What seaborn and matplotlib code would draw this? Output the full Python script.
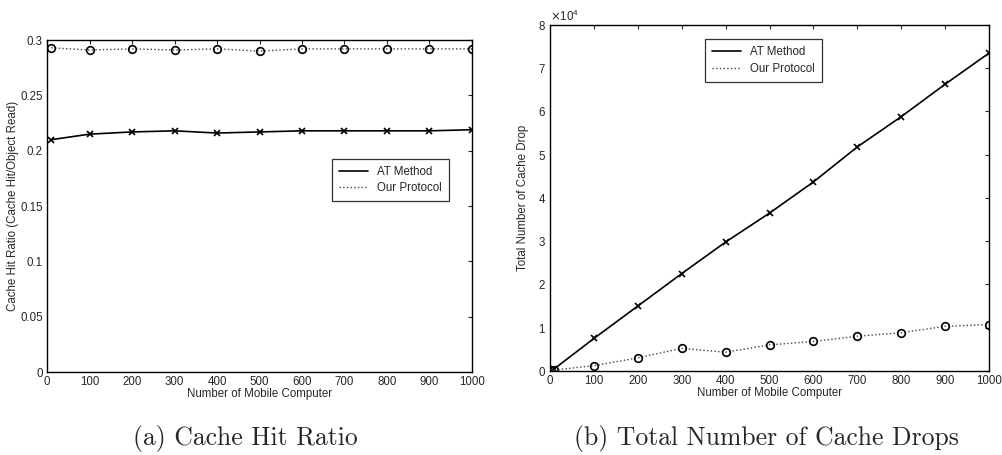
import pandas as pd
import seaborn as sns
import matplotlib.pyplot as plt
from matplotlib.lines import Line2D
from matplotlib.ticker import ScalarFormatter

mobiles = [10, 100, 200, 300, 400, 500, 600, 700, 800, 900, 1000]

hit_at = [0.210, 0.215, 0.217, 0.218, 0.216, 0.217, 0.218, 0.218, 0.218, 0.218, 0.219]
hit_ours = [0.293, 0.291, 0.292, 0.291, 0.292, 0.290, 0.292, 0.292, 0.292, 0.292, 0.292]

drops_at = [500, 7500, 15000, 22500, 29800, 36500, 43700, 51800, 58800, 66300, 73500]
drops_ours = [200, 1200, 3000, 5200, 4300, 6000, 6800, 8000, 8800, 10300, 10700]

xticks = list(range(0, 1001, 100))

sns.set_style('white')
plt.rcParams['font.family'] = ['Liberation Sans', 'DejaVu Sans']

hit = pd.DataFrame({'n': mobiles, 'AT Method': hit_at, 'Our Protocol': hit_ours})
drops = pd.DataFrame({'n': mobiles, 'AT Method': drops_at, 'Our Protocol': drops_ours})

fig = plt.figure(figsize=(10.02, 4.55), dpi=100)
ax1 = fig.add_axes([0.047, 0.182, 0.424, 0.730])
ax2 = fig.add_axes([0.549, 0.185, 0.438, 0.760])

FS = 8.3


def draw(ax, df):
    sns.lineplot(data=df, x='n', y='AT Method', ax=ax, color='black', lw=1.2,
                 marker='x', markersize=5, markeredgecolor='black',
                 markeredgewidth=1.2)
    sns.lineplot(data=df, x='n', y='Our Protocol', ax=ax, color='#444444', lw=1.0,
                 linestyle=':', marker='o', markersize=5.5, markerfacecolor='none',
                 markeredgecolor='black', markeredgewidth=1.2)
    ax.set_xlim(0, 1000)
    ax.set_xticks(xticks)
    ax.tick_params(direction='in', top=True, right=True, length=3, labelsize=FS,
                   width=0.8, pad=3)
    for s in ax.spines.values():
        s.set_color('black')
        s.set_linewidth(1.0)
    ax.set_xlabel('Number of Mobile Computer', fontsize=FS, labelpad=0)
    handles = [Line2D([], [], color='black', lw=1.2),
               Line2D([], [], color='#444444', lw=1.0, linestyle=':')]
    return handles


h = draw(ax1, hit)
ax1.set_ylim(0, 0.3)
ax1.set_yticks([0, 0.05, 0.1, 0.15, 0.2, 0.25, 0.3])
ax1.set_yticklabels(['0', '0.05', '0.1', '0.15', '0.2', '0.25', '0.3'])
ax1.set_ylabel('Cache Hit Ratio (Cache Hit/Object Read)', fontsize=FS, labelpad=1)
leg1 = ax1.legend(h, ['AT Method', 'Our Protocol'], loc='upper left',
                  bbox_to_anchor=(0.658, 0.66), fontsize=FS, frameon=True,
                  fancybox=False, edgecolor='black', handlelength=2.5,
                  borderpad=0.6, labelspacing=0.4)
leg1.get_frame().set_linewidth(0.9)

h = draw(ax2, drops)
ax2.set_ylim(0, 80000)
ax2.set_yticks(range(0, 80001, 10000))
fmt = ScalarFormatter(useMathText=True)
fmt.set_powerlimits((0, 0))
ax2.yaxis.set_major_formatter(fmt)
ax2.yaxis.get_offset_text().set_fontsize(FS)
ax2.set_ylabel('Total Number of Cache Drop', fontsize=FS, labelpad=6)
leg2 = ax2.legend(h, ['AT Method', 'Our Protocol'], loc='upper left',
                  bbox_to_anchor=(0.34, 0.975), fontsize=FS, frameon=True,
                  fancybox=False, edgecolor='black', handlelength=2.5,
                  borderpad=0.6, labelspacing=0.4)
leg2.get_frame().set_linewidth(0.9)

fig.text(0.245, 0.037, '(a) Cache Hit Ratio', ha='center', va='center',
         fontsize=18.5, family='cmr10')
fig.text(0.765, 0.037, '(b) Total Number of Cache Drops', ha='center', va='center',
         fontsize=18.5, family='cmr10')

fig.savefig('out.png', dpi=100)
